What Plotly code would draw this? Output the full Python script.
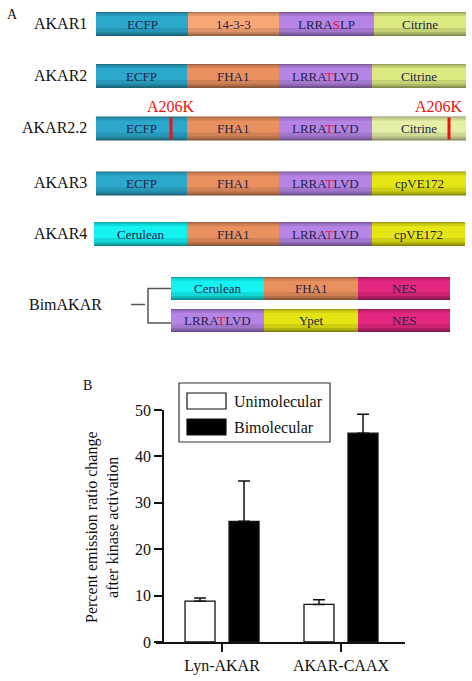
import plotly.graph_objects as go

W, H = 472, 681

# ---------------- Panel A data (domain architecture) ----------------
rows = ["AKAR1", "AKAR2", "AKAR2.2", "AKAR3", "AKAR4", "Bim1", "Bim2"]
row_labels = ["AKAR1", "AKAR2", "AKAR2.2", "AKAR3", "AKAR4", "", ""]
row_y = [24, 76, 128.5, 183.5, 234, 288.5, 320.5]
row_start = [96, 96, 96, 96, 94, 171, 171]
row_domains = [
    ["ECFP", "14-3-3", "LRRASLP", "Citrine"],
    ["ECFP", "FHA1", "LRRATLVD", "Citrine"],
    ["ECFP", "FHA1", "LRRATLVD", "Citrine2"],
    ["ECFP", "FHA1", "LRRATLVD", "cpVE172"],
    ["Cerulean", "FHA1", "LRRATLVD", "cpVE172"],
    ["Cerulean", "FHA1", "NES"],
    ["LRRATLVD", "Ypet", "NES"],
]
row_lengths = [
    [92, 91, 95, 92],
    [91, 92, 93, 94],
    [91, 92, 93, 94],
    [91, 92, 93, 94],
    [93, 92, 93, 93],
    [93, 94, 92],
    [93, 94, 92],
]
domain_text = {
    "ECFP": "ECFP", "14-3-3": "14-3-3", "FHA1": "FHA1",
    "LRRASLP": "LRRA<span style='color:#e8103a'>S</span>LP",
    "LRRATLVD": "LRRA<span style='color:#e8103a'>T</span>LVD",
    "Citrine": "Citrine", "Citrine2": "Citrine", "cpVE172": "cpVE172",
    "Cerulean": "Cerulean", "NES": "NES", "Ypet": "Ypet",
}
domain_color = {
    "ECFP": "#2ca8cc", "14-3-3": "#f7a676", "FHA1": "#e8905e",
    "LRRASLP": "#b584e4", "LRRATLVD": "#b584e4",
    "Citrine": "#dce981", "Citrine2": "#e6efa6", "cpVE172": "#e6e614",
    "Cerulean": "#14f2f2", "NES": "#e4287f", "Ypet": "#e4e414",
}
mutation_row = 2
mutation_x = [171, 449]
mutation_label_x = [171, 439]
mutation_label = "A206K"

# ---------------- Panel B data ----------------
categories = ["Lyn-AKAR", "AKAR-CAAX"]
uni_values = [8.8, 8.1]
uni_err = [0.7, 1.0]
bi_values = [26.0, 45.0]
bi_err = [8.7, 4.1]
y_ticks = [0, 10, 20, 30, 40, 50]

SERIF = "Liberation Serif"


def shade(hexc, f):
    h = hexc.lstrip("#")
    r, g, b = int(h[0:2], 16), int(h[2:4], 16), int(h[4:6], 16)
    return "rgb(%d,%d,%d)" % (min(255, int(r * f)), min(255, int(g * f)), min(255, int(b * f)))


fig = go.Figure()

seg_y, seg_base, seg_len, seg_col = [], [], [], []
for i, r in enumerate(rows):
    x0 = row_start[i]
    for d, L in zip(row_domains[i], row_lengths[i]):
        seg_y.append(row_y[i])
        seg_base.append(x0)
        seg_len.append(L)
        seg_col.append(domain_color[d])
        x0 += L

thick = [23 if i >= 5 else 24 for i in range(len(rows))]
seg_thick = []
for i, r in enumerate(rows):
    seg_thick += [thick[i]] * len(row_domains[i])

# (thickness fraction, brightness factor, vertical shift in px) -> 3D shading
layers = [(1.0, 0.6, 0), (0.9, 0.78, -0.6), (0.76, 0.9, -1.2), (0.5, 1.0, -2.0)]
for frac, fac, dy in layers:
    fig.add_trace(go.Bar(
        x=seg_len, base=seg_base, y=[v + dy for v in seg_y], orientation="h",
        width=[t * frac for t in seg_thick],
        marker=dict(color=[shade(c, fac) for c in seg_col], line=dict(width=0)),
        xaxis="x2", yaxis="y2", showlegend=False, hoverinfo="skip",
    ))

annotations = []
for i, r in enumerate(rows):
    x0 = row_start[i]
    for d, L in zip(row_domains[i], row_lengths[i]):
        annotations.append(dict(
            x=x0 + L / 2, y=row_y[i], xref="x2", yref="y2",
            text=domain_text[d], showarrow=False,
            font=dict(family=SERIF, size=13, color="#23234a"),
        ))
        x0 += L
    if row_labels[i]:
        annotations.append(dict(
            x=89, y=row_y[i] - 1, xref="x2", yref="y2", xanchor="right",
            text=row_labels[i], showarrow=False,
            font=dict(family=SERIF, size=16, color="#111"),
        ))

for mx in mutation_label_x:
    annotations.append(dict(
        x=mx, y=106, xref="x2", yref="y2", text=mutation_label, showarrow=False,
        font=dict(family=SERIF, size=16, color="#f01010"),
    ))

shapes = []
for mx in mutation_x:
    shapes.append(dict(
        type="line", xref="x2", yref="y2", x0=mx, x1=mx,
        y0=row_y[mutation_row] - 11, y1=row_y[mutation_row] + 11,
        line=dict(color="#ee1111", width=3),
    ))

bim_mid = (row_y[5] + row_y[6]) / 2
fig.add_trace(go.Scatter(
    x=[131, 145], y=[bim_mid, bim_mid], mode="lines",
    line=dict(color="#555", width=1.5), xaxis="x2", yaxis="y2",
    showlegend=False, hoverinfo="skip"))
fig.add_trace(go.Scatter(
    x=[row_start[5], 148, 148, row_start[6]],
    y=[row_y[5], row_y[5], row_y[6] + 2.5, row_y[6] + 2.5], mode="lines",
    line=dict(color="#555", width=1.5), xaxis="x2", yaxis="y2",
    showlegend=False, hoverinfo="skip"))
annotations.append(dict(
    x=65, y=bim_mid, xref="x2", yref="y2", text="BimAKAR", showarrow=False,
    font=dict(family=SERIF, size=16, color="#111")))

annotations.append(dict(x=12, y=14, xref="x2", yref="y2", text="A", showarrow=False,
                        font=dict(family=SERIF, size=14, color="#111")))
annotations.append(dict(x=87, y=385, xref="x2", yref="y2", text="B", showarrow=False,
                        font=dict(family=SERIF, size=14, color="#111")))

# ---------------- Panel B bars ----------------
fig.add_trace(go.Bar(
    x=categories, y=uni_values, name="Unimolecular",
    marker=dict(color="white", line=dict(color="#111", width=1.3)),
    width=0.252, offset=-0.311,
    error_y=dict(type="data", symmetric=False, array=uni_err, arrayminus=[0, 0],
                 color="#111", thickness=1.5, width=6),
    showlegend=False, xaxis="x", yaxis="y",
))
fig.add_trace(go.Bar(
    x=categories, y=bi_values, name="Bimolecular",
    marker=dict(color="black", line=dict(color="#111", width=1.3)),
    width=0.252, offset=0.059,
    error_y=dict(type="data", symmetric=False, array=bi_err, arrayminus=[0, 0],
                 color="#111", thickness=1.5, width=6),
    showlegend=False, xaxis="x", yaxis="y",
))

annotations.append(dict(
    x=102, y=527, xref="x2", yref="y2", textangle=-90, showarrow=False,
    text="Percent emission ratio change<br>after kinase activation",
    font=dict(family=SERIF, size=16, color="#111")))

shapes.append(dict(type="rect", xref="x2", yref="y2", x0=179, x1=330, y0=383, y1=442,
                   line=dict(color="#333", width=1.2), fillcolor="rgba(0,0,0,0)"))
shapes.append(dict(type="rect", xref="x2", yref="y2", x0=187, x1=226, y0=393, y1=409,
                   line=dict(color="#111", width=1.2), fillcolor="white"))
shapes.append(dict(type="rect", xref="x2", yref="y2", x0=187, x1=226, y0=419, y1=435,
                   line=dict(color="#111", width=1.2), fillcolor="black"))
annotations.append(dict(x=232, y=401, xref="x2", yref="y2", xanchor="left",
                        text="Unimolecular", showarrow=False,
                        font=dict(family=SERIF, size=16, color="#111")))
annotations.append(dict(x=232, y=427, xref="x2", yref="y2", xanchor="left",
                        text="Bimolecular", showarrow=False,
                        font=dict(family=SERIF, size=16, color="#111")))

fig.update_layout(
    width=W, height=H, margin=dict(l=0, r=0, t=0, b=0, autoexpand=False),
    paper_bgcolor="white", plot_bgcolor="rgba(0,0,0,0)",
    barmode="overlay", showlegend=False,
    font=dict(family=SERIF),
    annotations=annotations, shapes=shapes,
    xaxis=dict(domain=[156 / W, 405 / W], type="category", range=[-0.555, 1.538],
               showline=True, linecolor="#111", linewidth=1.5, ticks="outside",
               ticklen=8, tickwidth=1.5, tickcolor="#111", showgrid=False,
               zeroline=False, tickfont=dict(family=SERIF, size=16, color="#111"),
               anchor="y", fixedrange=True),
    yaxis=dict(domain=[1 - 642 / H, 1 - 410 / H], range=[0, 50], tickvals=y_ticks,
               anchor="free", position=163 / W,
               showline=True, linecolor="#111", linewidth=1.5, ticks="outside",
               ticklen=8, tickwidth=1.5, tickcolor="#111", showgrid=False,
               zeroline=False, tickfont=dict(family=SERIF, size=16, color="#111"),
               fixedrange=True),
    xaxis2=dict(domain=[0, 1], range=[0, W], visible=False, anchor="y2", fixedrange=True),
    yaxis2=dict(domain=[0, 1], range=[H, 0], visible=False, anchor="x2", fixedrange=True),
)

fig.write_html("out.html", config={"displayModeBar": False, "responsive": False},
               post_script="document.body.style.margin='0';document.body.style.overflow='hidden';")
